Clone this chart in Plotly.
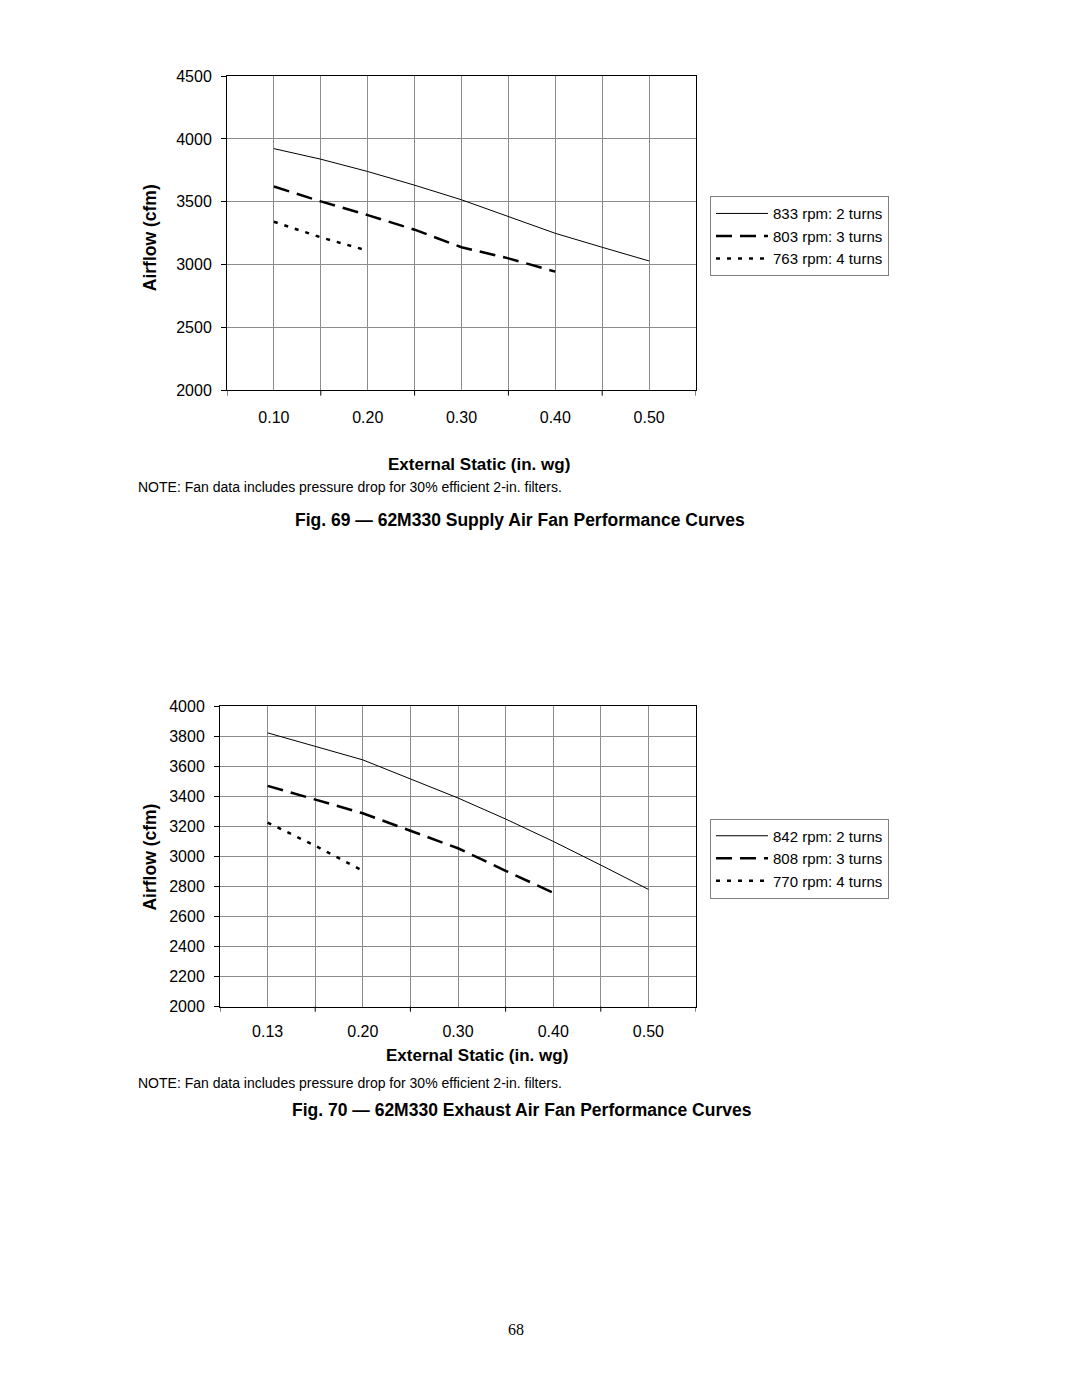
import plotly.graph_objects as go

# Fig. 69 - supply air fan (external static, in. wg)
static_supply = ["0.10", "0.15", "0.20", "0.25", "0.30", "0.35", "0.40", "0.45", "0.50"]
supply_labels = ["0.10", "0.20", "0.30", "0.40", "0.50"]
cfm_833 = [3923, 3839, 3741, 3632, 3516, 3384, 3249, 3138, 3029]
cfm_803 = [3622, 3503, 3394, 3278, 3138, 3050, 2944]
cfm_763 = [3341, 3217, 3111]

# Fig. 70 - exhaust air fan
static_exhaust = ["0.13", "0.15", "0.20", "0.25", "0.30", "0.35", "0.40", "0.45", "0.50"]
exhaust_labels = ["0.13", "0.20", "0.30", "0.40", "0.50"]
cfm_842 = [3824, 3733, 3644, 3517, 3390, 3250, 3101, 2943, 2781]
cfm_808 = [3471, 3379, 3288, 3172, 3055, 2905, 2759]
cfm_770 = [3226, 3072, 2905]

FONT = "Liberation Sans, Arial, Helvetica, sans-serif"
# page body keeps its default 8px margin, so the figure is sized to fit inside it
PAD = 8
W, H = 1080 - 2 * PAD, 1397 - 2 * PAD
# vertical correction measured from the rendered snapshot
Y_SCALE, Y_OFF = 0.9872, 8.0

SOLID = dict(color="black", width=1)
DASHED = dict(color="black", width=2.5, dash="16px,8px")
DOTTED = dict(color="black", width=2.5, dash="4px,7px")

fig = go.Figure()

supply_series = [("833 rpm: 2 turns", cfm_833, SOLID),
                 ("803 rpm: 3 turns", cfm_803, DASHED),
                 ("763 rpm: 4 turns", cfm_763, DOTTED)]
for name, vals, line in supply_series:
    fig.add_trace(go.Scatter(x=static_supply[:len(vals)], y=vals, mode="lines", name=name,
                             line=line, xaxis="x", yaxis="y", legend="legend"))

exhaust_series = [("842 rpm: 2 turns", cfm_842, SOLID),
                  ("808 rpm: 3 turns", cfm_808, DASHED),
                  ("770 rpm: 4 turns", cfm_770, DOTTED)]
for name, vals, line in exhaust_series:
    fig.add_trace(go.Scatter(x=static_exhaust[:len(vals)], y=vals, mode="lines", name=name,
                             line=line, xaxis="x2", yaxis="y2", legend="legend2"))


def px_x(v):
    return (v - PAD) / W


def px_y(v):
    page = (v - Y_OFF) / Y_SCALE
    return 1 - (page - PAD) / H


def xaxis(cats, labels, dom, anchor, standoff):
    return dict(type="category", categoryorder="array", categoryarray=cats,
                range=[-1, len(cats)], domain=dom, anchor=anchor,
                tickvals=cats, ticktext=[c if c in labels else "" for c in cats],
                ticks="", showgrid=True, gridcolor="#8c8c8c", gridwidth=1,
                showline=True, linecolor="black", linewidth=1, mirror=True,
                zeroline=False, ticklabelstandoff=standoff,
                tickfont=dict(family=FONT, size=16, color="black"))


def yaxis(rng, step, dom, anchor):
    return dict(range=rng, dtick=step, tick0=rng[0], domain=dom, anchor=anchor,
                ticks="outside", ticklen=5, tickcolor="black",
                showgrid=True, gridcolor="#8c8c8c", gridwidth=1,
                showline=True, linecolor="black", linewidth=1, mirror=True,
                zeroline=False, ticklabelstandoff=6,
                tickfont=dict(family=FONT, size=16, color="black"))


legend_style = dict(xanchor="left", yanchor="top", bgcolor="white",
                    bordercolor="#808080", borderwidth=1, itemwidth=52,
                    font=dict(family=FONT, size=15, color="black"),
                    tracegroupgap=0)

fig.update_layout(
    width=W, height=H, autosize=False,
    margin=dict(l=0, r=0, t=0, b=0),
    paper_bgcolor="white", plot_bgcolor="white",
    font=dict(family=FONT, color="black"),
    xaxis=xaxis(static_supply, supply_labels, [px_x(227), px_x(696)], "y", 13),
    yaxis=yaxis([2000, 4500], 500, [px_y(390), px_y(76)], "x"),
    xaxis2=xaxis(static_exhaust, exhaust_labels, [px_x(220), px_x(696)], "y2", 10),
    yaxis2=yaxis([2000, 4000], 200, [px_y(1006), px_y(706)], "x2"),
    legend=dict(x=px_x(710), y=px_y(196), **legend_style),
    legend2=dict(x=px_x(710), y=px_y(818), **legend_style),
)

# tick marks between the labelled categories on the x axes
shapes = []
for xr, yr in [("x", "y domain"), ("x2", "y2 domain")]:
    for k in range(-1, 10, 2):
        shapes.append(dict(type="line", xref=xr, yref=yr, x0=k, x1=k, y0=0, y1=-0.017,
                           line=dict(color="black", width=1)))
fig.update_layout(shapes=shapes)


def note(text, x, y, size, bold=False, anchor="center", angle=0, family=FONT):
    fig.add_annotation(text=f"<b>{text}</b>" if bold else text, x=px_x(x), y=px_y(y),
                       xref="paper", yref="paper", showarrow=False, xanchor=anchor,
                       yanchor="middle", textangle=angle,
                       font=dict(family=family, size=size, color="black"))


NOTE = "NOTE: Fan data includes pressure drop for 30% efficient 2-in. filters."

note("Airflow (cfm)", 150, 238, 17.5, bold=True, angle=-90)
note("External Static (in. wg)", 386, 464, 17, bold=True, anchor="left")
note(NOTE, 136, 487, 14, anchor="left")
note("Fig. 69 — 62M330 Supply Air Fan Performance Curves", 293, 520, 17.5, bold=True, anchor="left")

note("Airflow (cfm)", 150, 857, 17.5, bold=True, angle=-90)
note("External Static (in. wg)", 384, 1055, 17, bold=True, anchor="left")
note(NOTE, 136, 1082, 14, anchor="left")
note("Fig. 70 — 62M330 Exhaust Air Fan Performance Curves", 290, 1109, 17.5, bold=True, anchor="left")

note("68", 516, 1329, 16, family="Liberation Serif, Times New Roman, serif")

fig.write_html("out.html")
